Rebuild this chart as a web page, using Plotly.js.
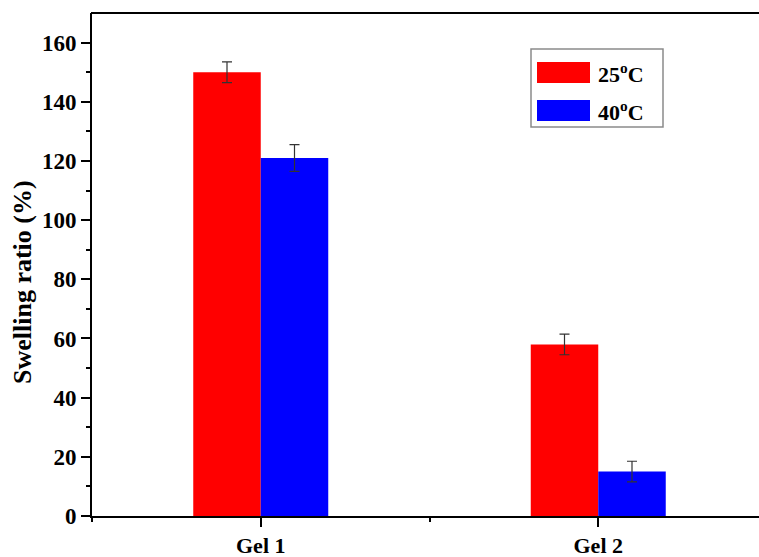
<!DOCTYPE html>
<html>
<head>
<meta charset="utf-8">
<script src="https://cdn.plot.ly/plotly-3.0.1.min.js"></script>
<style>
html,body{margin:0;padding:0;overflow:hidden;background:#fff;}
#chart{width:759px;height:557px;}
</style>
</head>
<body>
<div id="chart"></div>
<script>
// ---- data ----
var categories = ['Gel 1', 'Gel 2'];
var seriesNames = ['25<sup>o</sup>C', '40<sup>o</sup>C'];
var values25 = [150, 58];
var errors25 = [3.5, 3.5];
var values40 = [121, 15];
var errors40 = [4.5, 3.5];
var colors = ['#ff0000', '#0000ff'];
var yTickVals = [0, 20, 40, 60, 80, 100, 120, 140, 160];
var yMinorVals = [10, 30, 50, 70, 90, 110, 130, 150];

var FONT = 'Liberation Serif, Times New Roman, serif';
var xPos = categories.map(function (c, i) { return i; });
var xMinor = [-0.5, 0.5];

var traces = [
  {
    type: 'bar', name: seriesNames[0], x: xPos, y: values25,
    marker: {color: colors[0], line: {width: 0}},
    error_y: {type: 'data', array: errors25, visible: true, color: '#333333', thickness: 1.2, width: 5},
    showlegend: false
  },
  {
    type: 'bar', name: seriesNames[1], x: xPos, y: values40,
    marker: {color: colors[1], line: {width: 0}},
    error_y: {type: 'data', array: errors40, visible: true, color: '#333333', thickness: 1.2, width: 5},
    showlegend: false
  },
  // empty helper traces so the minor-tick axes are drawn
  {type: 'scatter', x: [], y: [], xaxis: 'x2', yaxis: 'y', showlegend: false, hoverinfo: 'skip'},
  {type: 'scatter', x: [], y: [], xaxis: 'x', yaxis: 'y2', showlegend: false, hoverinfo: 'skip'}
];

// pixel -> paper helpers for the hand-drawn legend
var L = 92, T = 13, W = 667, H = 503;
function px(x) { return (x - L) / W; }
function py(y) { return (T + H - y) / H; }
var xRange = [-0.5, -0.5 + W / 337.5];
var yRange = [0, 170];

var shapes = [
  {type: 'line', xref: 'paper', yref: 'paper', x0: px(91), x1: px(770), y0: 1, y1: 1,
   line: {color: '#000', width: 2}},
  {type: 'rect', xref: 'paper', yref: 'paper', x0: px(531), x1: px(663), y0: py(127), y1: py(49),
   line: {color: '#8a8a8a', width: 1.5}, fillcolor: 'rgba(0,0,0,0)'},
  {type: 'rect', xref: 'paper', yref: 'paper', x0: px(537), x1: px(590), y0: py(83), y1: py(62),
   line: {width: 0}, fillcolor: colors[0]},
  {type: 'rect', xref: 'paper', yref: 'paper', x0: px(537), x1: px(590), y0: py(121), y1: py(100),
   line: {width: 0}, fillcolor: colors[1]}
];

var annotations = [
  {xref: 'paper', yref: 'paper', x: px(596), y: py(73), xanchor: 'left', yanchor: 'middle',
   text: '<b>' + seriesNames[0] + '</b>', showarrow: false, font: {family: FONT, size: 22, color: '#000'}},
  {xref: 'paper', yref: 'paper', x: px(596), y: py(111), xanchor: 'left', yanchor: 'middle',
   text: '<b>' + seriesNames[1] + '</b>', showarrow: false, font: {family: FONT, size: 22, color: '#000'}},
  {xref: 'paper', yref: 'paper', x: px(22), y: py(282), xanchor: 'center', yanchor: 'middle',
   text: '<b>Swelling ratio (%)</b>', textangle: -90, showarrow: false,
   font: {family: FONT, size: 26, color: '#000'}}
];

var layout = {
  width: 759, height: 557,
  margin: {l: L, r: 0, t: T, b: 557 - T - H, pad: 0},
  paper_bgcolor: '#fff', plot_bgcolor: '#fff',
  barmode: 'group', bargap: 0.6, bargroupgap: 0,
  font: {family: FONT, color: '#000'},
  xaxis: {
    range: xRange, tickmode: 'array', tickvals: xPos,
    ticktext: categories.map(function (c) { return '<b>' + c + '</b>'; }),
    tickfont: {family: FONT, size: 22, color: '#000'},
    ticks: 'outside', ticklen: 9, tickwidth: 2, tickcolor: '#000',
    showline: true, linecolor: '#000', linewidth: 2, mirror: false,
    showgrid: false, zeroline: false, fixedrange: true
  },
  xaxis2: {
    overlaying: 'x', side: 'bottom', anchor: 'y',
    range: xRange, tickmode: 'array', tickvals: xMinor, showticklabels: false,
    ticks: 'outside', ticklen: 5, tickwidth: 2, tickcolor: '#000',
    showline: false, showgrid: false, zeroline: false, fixedrange: true
  },
  yaxis: {
    range: yRange, tickmode: 'array', tickvals: yTickVals,
    ticktext: yTickVals.map(function (v) { return '<b>' + v + '</b>'; }),
    tickfont: {family: FONT, size: 23, color: '#000'},
    ticks: 'outside', ticklen: 9, tickwidth: 2, tickcolor: '#000',
    showline: true, linecolor: '#000', linewidth: 2, mirror: false,
    showgrid: false, zeroline: false, fixedrange: true
  },
  yaxis2: {
    overlaying: 'y', side: 'left', anchor: 'x',
    range: yRange, tickmode: 'array', tickvals: yMinorVals, showticklabels: false,
    ticks: 'outside', ticklen: 5, tickwidth: 2, tickcolor: '#000',
    showline: false, showgrid: false, zeroline: false, fixedrange: true
  },
  shapes: shapes,
  annotations: annotations,
  showlegend: false
};

Plotly.newPlot('chart', traces, layout, {displayModeBar: false, staticPlot: true});
</script>
</body>
</html>
